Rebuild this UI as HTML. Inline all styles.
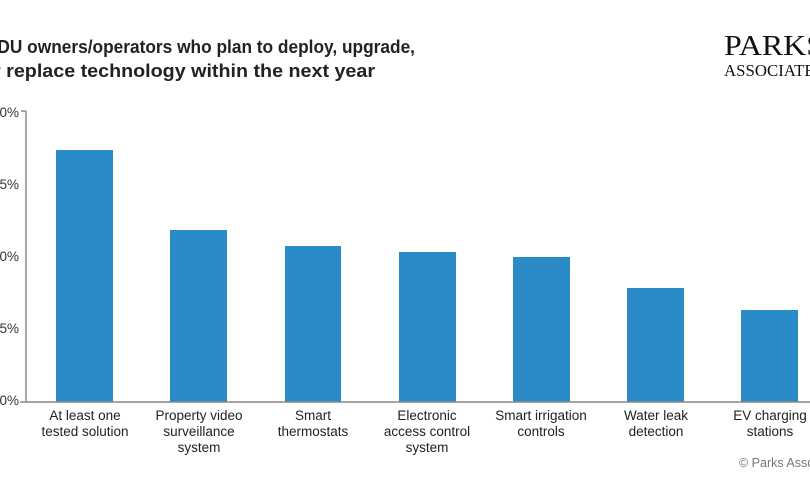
<!DOCTYPE html>
<html><head><meta charset="utf-8"><style>
body{margin:0;background:#fff;}
svg{display:block;font-family:"Liberation Sans",sans-serif;}
</style></head><body>
<svg width="810" height="480" viewBox="0 0 810 480">
<text x="-17" y="53" font-size="18.5" font-weight="bold" fill="#222" textLength="432" lengthAdjust="spacingAndGlyphs">MDU owners/operators who plan to deploy, upgrade,</text>
<text x="-19" y="77" font-size="18.5" font-weight="bold" fill="#222" textLength="394" lengthAdjust="spacingAndGlyphs">or replace technology within the next year</text>
<text x="724" y="55" font-family="Liberation Serif" font-size="29" fill="#111" textLength="100" lengthAdjust="spacingAndGlyphs">PARKS</text>
<text x="724" y="76" font-family="Liberation Serif" font-size="17" fill="#111" textLength="100" lengthAdjust="spacingAndGlyphs">ASSOCIATES</text>
<g font-size="13.5" fill="#333" text-anchor="end">
<text x="19" y="117">20%</text><text x="19" y="189">15%</text><text x="19" y="261">10%</text><text x="19" y="333">5%</text><text x="19" y="405">0%</text>
</g>
<line x1="26" y1="111" x2="26" y2="402" stroke="#888" stroke-width="1.5"/>
<line x1="21" y1="111" x2="26" y2="111" stroke="#888" stroke-width="1.5"/>
<g fill="#2a8bc6">
<rect x="56" y="150" width="57" height="252"/>
<rect x="170" y="230" width="57" height="172"/>
<rect x="285" y="246" width="56" height="156"/>
<rect x="399" y="252" width="57" height="150"/>
<rect x="513" y="257" width="57" height="145"/>
<rect x="627" y="288" width="57" height="114"/>
<rect x="741" y="310" width="57" height="92"/>
</g>
<line x1="20" y1="402" x2="810" y2="402" stroke="#888" stroke-width="1.5"/>
<g font-size="13.5" fill="#222" text-anchor="middle">
<text x="85" y="420">At least one</text><text x="85" y="436">tested solution</text>
<text x="199" y="420">Property video</text><text x="199" y="436">surveillance</text><text x="199" y="452">system</text>
<text x="313" y="420">Smart</text><text x="313" y="436">thermostats</text>
<text x="427" y="420">Electronic</text><text x="427" y="436">access control</text><text x="427" y="452">system</text>
<text x="541" y="420">Smart irrigation</text><text x="541" y="436">controls</text>
<text x="656" y="420">Water leak</text><text x="656" y="436">detection</text>
<text x="770" y="420">EV charging</text><text x="770" y="436">stations</text>
</g>
<text x="739" y="467" font-size="12.5" fill="#777">© Parks Associates</text>
</svg>
</body></html>
